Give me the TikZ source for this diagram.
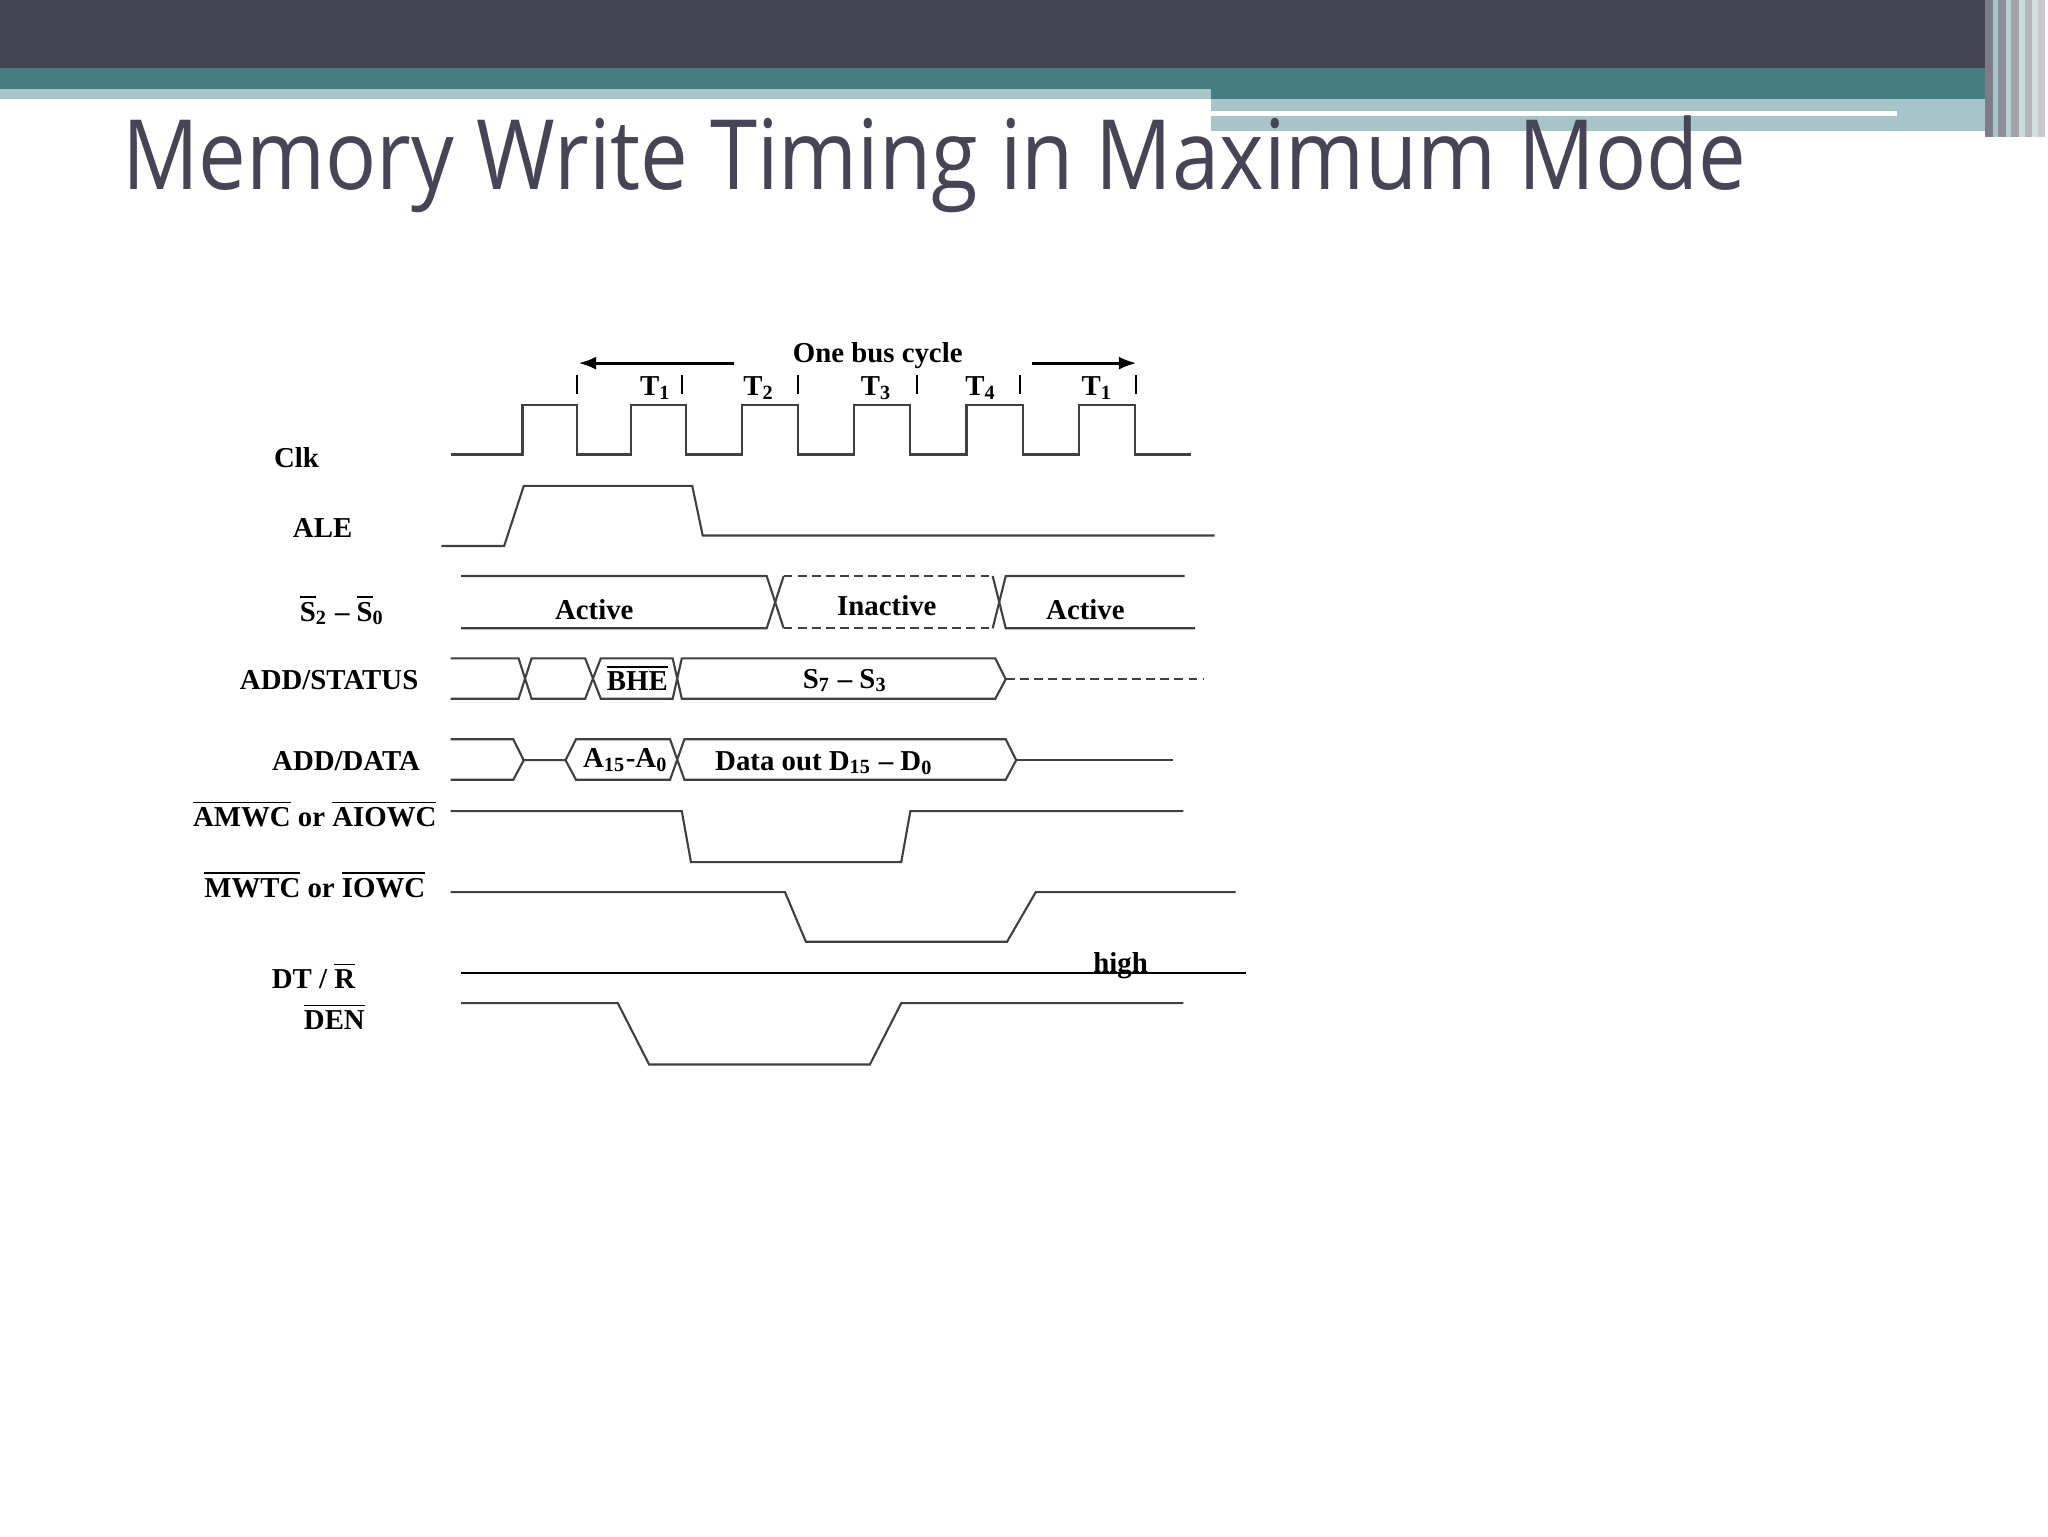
\documentclass[tikz,border=0pt]{standalone}
\usepackage{fontspec}
\setmainfont{Liberation Serif}
\newfontfamily\titlefont{Open Sans}
\usetikzlibrary{arrows.meta}
\definecolor{dark}{HTML}{454555}
\definecolor{teal}{HTML}{467D82}
\definecolor{light}{HTML}{A7C4C8}
\newcommand\ovl[1]{$\overline{\mbox{#1}}$}
\begin{document}
\begin{tikzpicture}[x=0.1306mm,y=-0.1306mm,
  sig/.style={draw=black!75,line width=0.6pt},
  lbl/.style={font=\bfseries\fontsize{8.2}{10}\selectfont,inner sep=0pt},
  dsh/.style={sig,dash pattern=on 2.5pt off 1.5pt}]
\useasboundingbox (0,0) rectangle (1568,1176);
\fill[white] (0,0) rectangle (1568,1176);
% header
\fill[dark] (0,0) rectangle (1520,52);
\fill[teal] (0,52) rectangle (1520,76);
\fill[light] (0,68) rectangle (927,76);
\fill[light] (927,76) rectangle (1520,100);
\fill[white] (927,85) rectangle (1452,89);
\foreach \x/\c in {1520/dark!70,1526/light,1530/dark!60,1536/light!80,1540/dark!50,1546/light!60,1550/dark!40,1556/light!50,1560/dark!30}
  \fill[\c] (\x,0) rectangle ++(6,105);
\node[anchor=base west,inner sep=0pt,text=dark,font=\titlefont\fontsize{27.6}{30}\selectfont] (title) at (93,145) {\scalebox{0.876}[1]{Memory Write Timing in Maximum Mode}};
% labels
\node[lbl] (lclk) at (227,350) {Clk};
\node[lbl] (lale) at (247,404) {ALE};
\node[lbl] (ls) at (262,467) {\ovl{S}\textsubscript{2} -- \ovl{S}\textsubscript{0}};
\node[lbl] (last) at (252,521) {ADD/STATUS};
\node[lbl] (lad) at (265,583) {ADD/DATA};
\node[lbl] (lam) at (241,623) {\ovl{AMWC} or \ovl{AIOWC}};
\node[lbl] (lmw) at (241,677) {\ovl{MWTC} or \ovl{IOWC}};
\node[lbl] (ldt) at (240,747) {DT / \ovl{R}};
\node[lbl] (lden) at (256,778) {\ovl{DEN}};
% cycle header
\node[lbl] (obc) at (672,272) {One bus cycle};
\coordinate (al1) at (562,278); \coordinate (al2) at (443,278);
\coordinate (ar1) at (790,278); \coordinate (ar2) at (870,278);
\draw[black,line width=0.8pt,-{Latex[length=5pt]}] (al1) -- (al2);
\draw[black,line width=0.8pt,-{Latex[length=5pt]}] (ar1) -- (ar2);
\foreach \x in {442,522,611,702,781,870} \draw[black,line width=0.6pt] (\x,287) -- (\x,302);
\foreach \x/\t [count=\i] in {502/1,581/2,671/3,751/4,840/1} \node[lbl] (t\i) at (\x,297) {T\textsubscript{\t}};
% Clk
\draw[sig] (345,348) -- (400,348) -- (400,310) -- (442,310) -- (442,348) -- (483,348) -- (483,310) -- (525,310) -- (525,348)
 -- (568,348) -- (568,310) -- (611,310) -- (611,348) -- (654,348) -- (654,310) -- (697,310) -- (697,348)
 -- (740,348) -- (740,310) -- (783,310) -- (783,348) -- (826,348) -- (826,310) -- (869,310) -- (869,348) -- (912,348);
% ALE
\draw[sig] (338,418) -- (386,418) -- (401,372) -- (530,372) -- (538,410) -- (930,410);
% S2-S0
\draw[sig] (353,441) -- (587,441) -- (600,481);
\draw[sig] (353,481) -- (587,481) -- (600,441);
\draw[dsh] (600,441) -- (760,441); \draw[dsh] (600,481) -- (760,481);
\draw[sig] (760,441) -- (770,481) -- (915,481);
\draw[sig] (760,481) -- (770,441) -- (907,441);
\node[lbl] (act1) at (455,467) {Active};
\node[lbl] (inact) at (679,464) {Inactive};
\node[lbl] (act2) at (831,467) {Active};
% ADD/STATUS
\draw[sig] (345,504) -- (397,504) -- (407,535) -- (448,535) -- (460,504) -- (515,504) -- (522,535) -- (762,535) -- (770,520) -- (762,504) -- (522,504) -- (515,535) -- (460,535) -- (448,504) -- (407,504) -- (397,535) -- (345,535);
\draw[dsh] (770,520) -- (922,520);
\node[lbl] (bhe) at (488,519) {\ovl{BHE}};
\node[lbl] (s73) at (647,521) {S\textsubscript{7} -- S\textsubscript{3}};
% ADD/DATA
\draw[sig] (345,566) -- (393,566) -- (401,582) -- (393,597) -- (345,597);
\draw[sig] (401,582) -- (433,582) -- (441,566) -- (513,566) -- (524,597) -- (770,597) -- (778,582) -- (770,566) -- (524,566) -- (513,597) -- (441,597) -- (433,582);
\draw[sig] (778,582) -- (898,582);
\node[lbl] (a15) at (479,582) {A\textsubscript{15}-A\textsubscript{0}};
\node[lbl] (dout) at (631,584) {Data out D\textsubscript{15} -- D\textsubscript{0}};
% AMWC
\draw[sig] (345,621) -- (522,621) -- (529,660) -- (690,660) -- (697,621) -- (906,621);
% MWTC
\draw[sig] (345,683) -- (601,683) -- (617,721) -- (771,721) -- (793,683) -- (946,683);
% DT/R
\draw[black,line width=0.7pt] (353,745) -- (954,745);
\node[lbl] (high) at (858,739) {high};
% DEN
\draw[sig] (353,768) -- (473,768) -- (497,815) -- (666,815) -- (690,768) -- (906,768);
\end{tikzpicture}
\end{document}
